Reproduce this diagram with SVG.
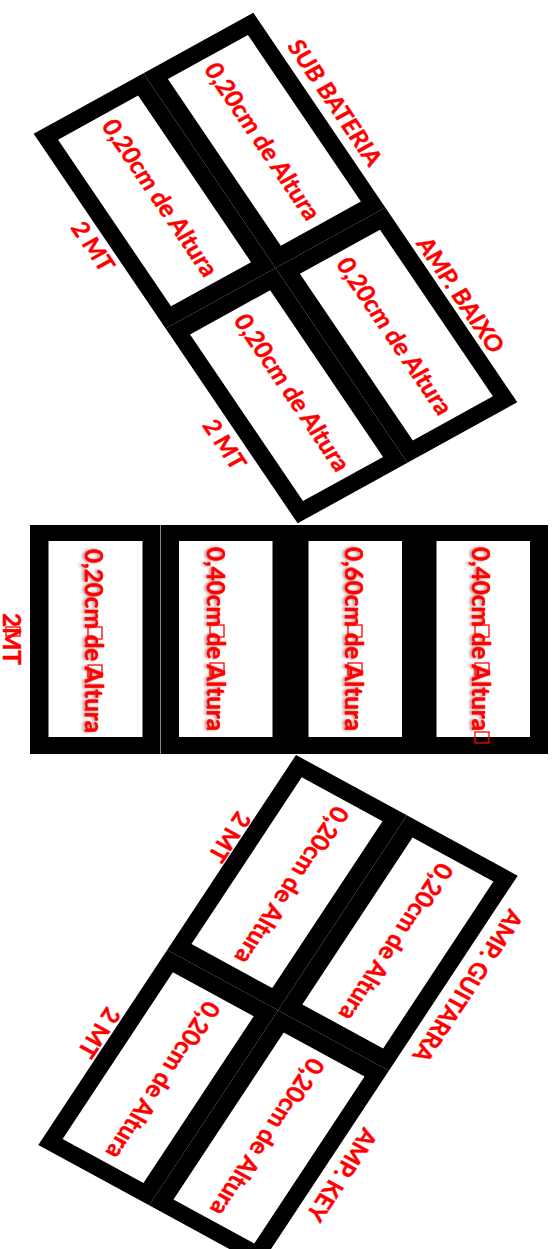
<svg xmlns="http://www.w3.org/2000/svg" width="554" height="1249" viewBox="0 0 554 1249">
<style>
.blk{fill:#000}
.in{fill:#fff}
.t{font-family:Lato,"Open Sans",sans-serif;font-weight:bold;font-size:24.5px;fill:#f00;stroke:#f00;stroke-width:0.45;text-anchor:middle}
.lb{font-size:23.5px}
.v{font-family:Lato,"Open Sans",sans-serif;font-weight:bold;font-size:24.5px;fill:#f00;stroke:#f00;stroke-width:0.45}
.tofu{fill:none;stroke:#f00;stroke-width:1.3}
.seam{stroke:#888;stroke-width:1}
</style>
<defs>
<filter id="sh" x="-10%" y="-60%" width="120%" height="220%">
<feDropShadow dx="0" dy="2" stdDeviation="1.5" flood-color="#600" flood-opacity="0.5"/>
</filter>
</defs>
<rect width="554" height="1249" fill="#fff"/>

<g id="stage-top" transform="matrix(0.5605 0.8270 -0.8751 0.4825 253.3 12.7)">
 <g id="sub-bateria">
  <rect class="blk" x="0" y="0" width="235.5" height="125.5"/>
  <rect class="in" x="17" y="17" width="201.5" height="91.5"/>
  <text class="t" x="117.75" y="73.5" textLength="185" lengthAdjust="spacingAndGlyphs">0,20cm de Altura</text>
  <text class="t lb" x="119" y="-9">SUB BATERIA</text>
 </g>
 <g id="amp-baixo">
  <rect class="blk" x="235.5" y="0" width="235.5" height="125.5"/>
  <rect class="in" x="252.5" y="17" width="201.5" height="91.5"/>
  <text class="t" x="353.25" y="73.5" textLength="185" lengthAdjust="spacingAndGlyphs">0,20cm de Altura</text>
  <text class="t lb" x="349" y="-5">AMP. BAIXO</text>
 </g>
 <g id="top-2mt-a">
  <rect class="blk" x="0" y="125.5" width="235.5" height="125.5"/>
  <rect class="in" x="17" y="142.5" width="201.5" height="91.5"/>
  <text class="t" x="117.75" y="190.5" textLength="185" lengthAdjust="spacingAndGlyphs">0,20cm de Altura</text>
  <text class="t lb" x="128" y="273.5">2 MT</text>
 </g>
 <g id="top-2mt-b">
  <rect class="blk" x="235.5" y="125.5" width="235.5" height="125.5"/>
  <rect class="in" x="252.5" y="142.5" width="201.5" height="91.5"/>
  <text class="t" x="353.25" y="190.5" textLength="185" lengthAdjust="spacingAndGlyphs">0,20cm de Altura</text>
  <text class="t lb" x="366" y="275.5">2 MT</text>
 </g>
</g>

<g id="stage-middle">
 <g id="mid-1">
  <rect class="blk" x="30" y="525" width="130" height="229"/>
  <rect class="in" x="48.5" y="541" width="94" height="196"/>
  <g transform="translate(94 641) rotate(90)">
   <text class="v" x="-92" y="8.75" textLength="184" lengthAdjust="spacingAndGlyphs" filter="url(#sh)">0,20cm de Altura</text>
   <rect class="tofu" x="-14" y="-8" width="12" height="14"/>
   <rect class="tofu" x="24" y="-8" width="12" height="14"/>
  </g>
 </g>
 <g id="mid-2">
  <rect class="blk" x="160" y="525" width="130" height="229"/>
  <rect class="in" x="179" y="541" width="93.5" height="196"/>
  <g transform="translate(216 639) rotate(90)">
   <text class="v" x="-92" y="8.75" textLength="184" lengthAdjust="spacingAndGlyphs" filter="url(#sh)">0,40cm de Altura</text>
   <rect class="tofu" x="-14" y="-8" width="12" height="14"/>
   <rect class="tofu" x="24" y="-8" width="12" height="14"/>
  </g>
 </g>
 <g id="mid-3">
  <rect class="blk" x="290" y="525" width="129" height="229"/>
  <rect class="in" x="308.5" y="541" width="93.5" height="196"/>
  <g transform="translate(354 639) rotate(90)">
   <text class="v" x="-92" y="8.75" textLength="184" lengthAdjust="spacingAndGlyphs" filter="url(#sh)">0,60cm de Altura</text>
   <rect class="tofu" x="-14" y="-8" width="12" height="14"/>
   <rect class="tofu" x="24" y="-8" width="12" height="14"/>
  </g>
 </g>
 <g id="mid-4">
  <rect class="blk" x="419" y="525" width="129" height="229"/>
  <rect class="in" x="436.5" y="541" width="93.5" height="196"/>
  <g transform="translate(481 639) rotate(90)">
   <text class="v" x="-92" y="8.75" textLength="184" lengthAdjust="spacingAndGlyphs" filter="url(#sh)">0,40cm de Altura</text>
   <rect class="tofu" x="-14" y="-8" width="12" height="14"/>
   <rect class="tofu" x="24" y="-8" width="12" height="14"/>
   <rect class="tofu" x="93" y="-8" width="11" height="14"/>
  </g>
 </g>
 <line class="seam" x1="160.5" y1="525" x2="160.5" y2="754"/>
 <g id="mid-label" transform="translate(12 639) rotate(90)">
  <text class="v" x="-26" y="8.75" textLength="52" lengthAdjust="spacingAndGlyphs">2MT</text>
  <rect class="tofu" x="-12" y="-8" width="9" height="14"/>
 </g>
</g>

<g id="stage-bottom" transform="matrix(-0.5471 0.8280 -0.8833 -0.4809 517.7 875.7)">
 <g id="amp-guitarra">
  <rect class="blk" x="0" y="0" width="235.5" height="125.5"/>
  <rect class="in" x="17" y="17" width="201.5" height="91.5"/>
  <text class="t" x="117.75" y="73.5" textLength="185" lengthAdjust="spacingAndGlyphs">0,20cm de Altura</text>
  <text class="t lb" x="122" y="-11">AMP. GUITARRA</text>
 </g>
 <g id="amp-key">
  <rect class="blk" x="235.5" y="0" width="235.5" height="125.5"/>
  <rect class="in" x="252.5" y="17" width="201.5" height="91.5"/>
  <text class="t" x="353.25" y="73.5" textLength="185" lengthAdjust="spacingAndGlyphs">0,20cm de Altura</text>
  <text class="t lb" x="351" y="-10">AMP. KEY</text>
 </g>
 <g id="bot-2mt-a">
  <rect class="blk" x="0" y="125.5" width="235.5" height="125.5"/>
  <rect class="in" x="17" y="142.5" width="201.5" height="91.5"/>
  <text class="t" x="117.75" y="191.5" textLength="185" lengthAdjust="spacingAndGlyphs">0,20cm de Altura</text>
  <text class="t lb" x="105" y="269.5">2 MT</text>
 </g>
 <g id="bot-2mt-b">
  <rect class="blk" x="235.5" y="125.5" width="235.5" height="125.5"/>
  <rect class="in" x="252.5" y="142.5" width="201.5" height="91.5"/>
  <text class="t" x="353.25" y="191.5" textLength="185" lengthAdjust="spacingAndGlyphs">0,20cm de Altura</text>
  <text class="t lb" x="342" y="270.5">2 MT</text>
 </g>
</g>
</svg>
